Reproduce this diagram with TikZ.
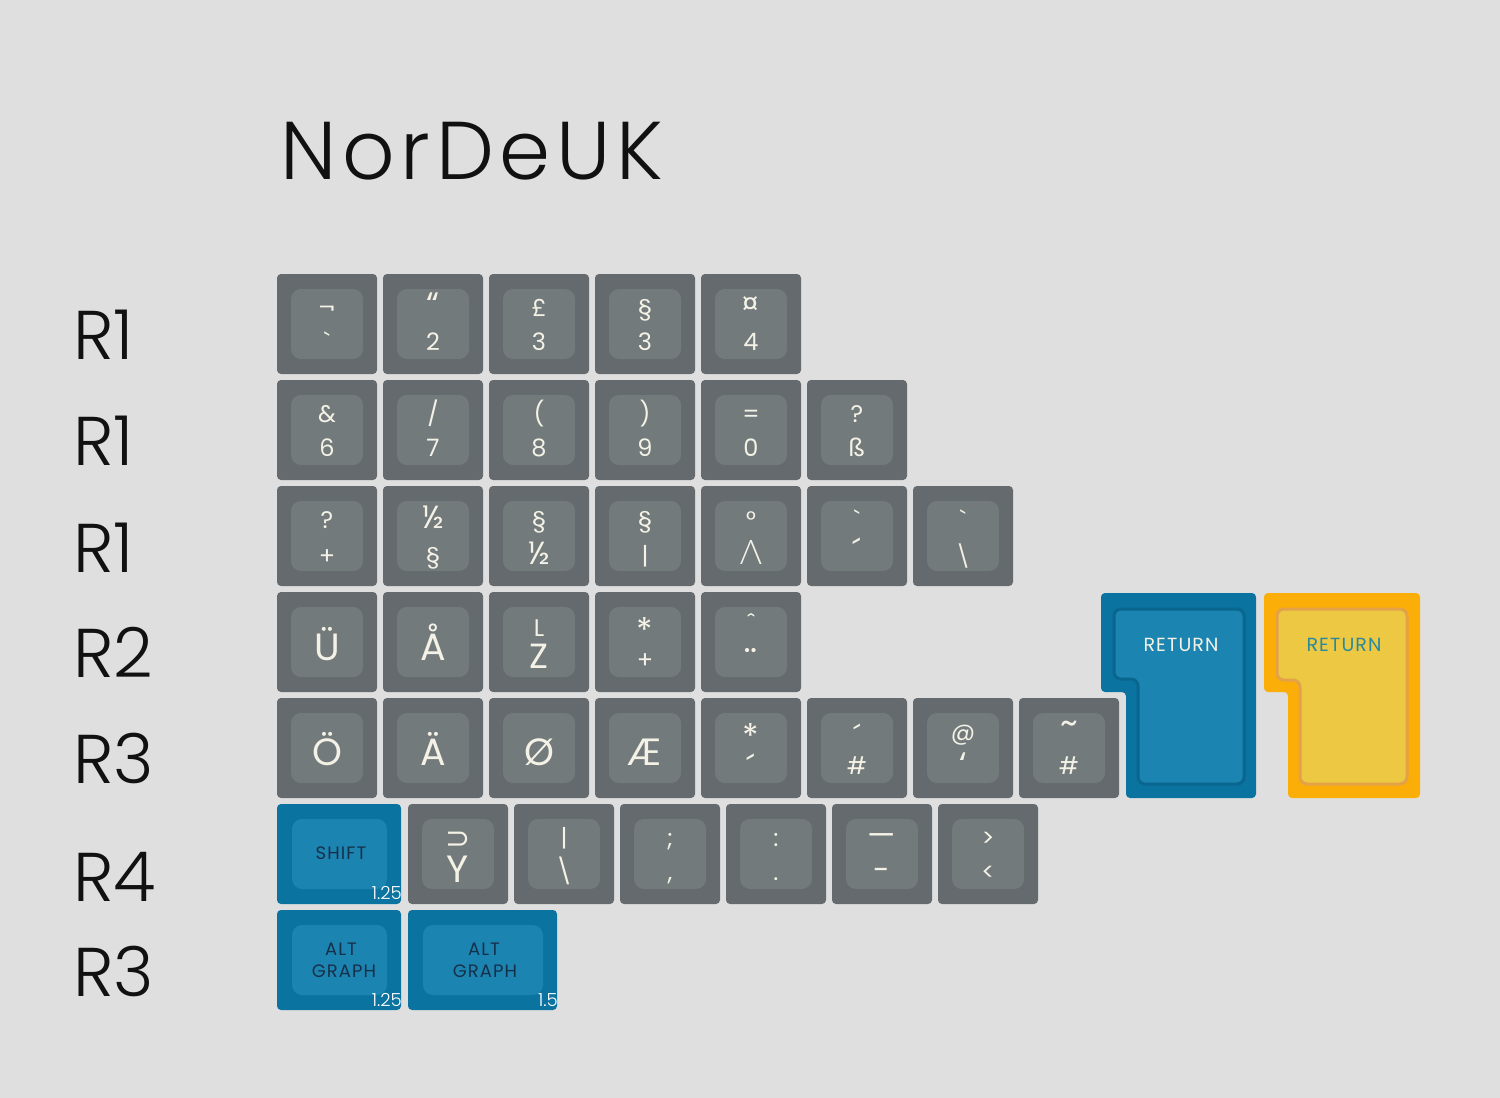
\documentclass[tikz,border=0pt]{standalone}
\usepackage{fontspec}
\usepackage{xcolor}
\usepackage{tikz}
\usetikzlibrary{positioning,calc}
\IfFontExistsTF{Poppins Light}
  {\newfontfamily\kbfont{Poppins Light}}
  {\newfontfamily\kbfont{Poppins}}
\newfontfamily\kbleg{Poppins}
\IfFontExistsTF{Lato Light}
  {\newfontfamily\kbgreek{Lato Light}}
  {\newfontfamily\kbgreek{Lato}}
\newfontfamily\kbsym{DejaVu Sans}
\definecolor{kbBg}{HTML}{DFDFDF}
\definecolor{kbDark}{HTML}{646A6D}
\definecolor{kbLight}{HTML}{737A7C}
\definecolor{kbLeg}{HTML}{F4F2E6}
\definecolor{kbBlue}{HTML}{0B73A0}
\definecolor{kbBlueL}{HTML}{1B84B0}
\definecolor{kbBlueE}{HTML}{08668F}
\definecolor{kbAmber}{HTML}{FBAE08}
\definecolor{kbYellow}{HTML}{EDC842}
\definecolor{kbYellowE}{HTML}{E3A248}
\definecolor{kbNavy}{HTML}{17304A}
\definecolor{kbTeal}{HTML}{2A8A9C}
\definecolor{kbInk}{HTML}{111111}
\newcommand\kbsz[1]{\fontsize{#1}{#1}\selectfont}
\tikzset{
  kb-cap/.style={rectangle, rounded corners=4pt, inner sep=0pt,
    minimum height=100pt},
  kb-key/.style={kb-cap, fill=kbDark, minimum width=100pt,
    path picture={\fill[kbLight, rounded corners=10pt]
      ([shift={(14pt,-15pt)}]path picture bounding box.north west) rectangle
      ([shift={(-14pt,15pt)}]path picture bounding box.south east);}},
  kb-mod/.style={kb-cap, fill=kbBlue, minimum width=#1,
    path picture={\fill[kbBlueL, rounded corners=10pt]
      ([shift={(15pt,-15pt)}]path picture bounding box.north west) rectangle
      ([shift={(-14pt,15pt)}]path picture bounding box.south east);}},
  kb-mod/.default=124pt,
  kb-leg/.style={text=kbLeg, inner sep=0pt, anchor=base,
    font=\kbleg\kbsz{24}},
  kb-big/.style={kb-leg, font=\kbleg\kbsz{38}},
  kb-modtext/.style={text=kbNavy, inner sep=0pt, anchor=base,
    font=\kbleg\kbsz{18}\addfontfeature{LetterSpace=6}},
  kb-size/.style={text=white, inner sep=0pt, anchor=base east,
    font=\kbfont\kbsz{18}},
  kb-return/.style={inner sep=0pt, anchor=base,
    font=\kbleg\kbsz{19}\addfontfeature{LetterSpace=6}},
  kb-row/.style={text=kbInk, inner sep=0pt, anchor=base west,
    font=\kbfont\kbsz{69}},
  kb-title/.style={text=kbInk, inner sep=0pt, anchor=base west,
    font=\kbfont\kbsz{82}\addfontfeature{LetterSpace=7}}
}
\begin{document}
\begin{tikzpicture}[x=1pt, y=-1pt]
\fill[kbBg] (0,0) rectangle (1500,1098);
\useasboundingbox (0,0) rectangle (1500,1098);

\node[kb-title] (title) at (280,179) {NorDeUK};

% Row labels
\foreach \n/\t/\y in {1/R1/359, 2/R1/465, 3/R1/572, 4/R2/677,
  5/R3/783, 6/R4/901, 7/R3/996}
  \node[kb-row] (lab\n) at (73,\y) {\t};

% First three rows
\foreach \i/\up/\dn in {0/{¬}/{`}, 1/{\kbsz{34}“}/2, 2/{£}/3, 3/{§}/3,
  4/{\kbsz{34}¤}/4}{
  \node[kb-key] (a\i) at (327+106*\i,324) {};
  \node[kb-leg] (a\i-u) at (327+106*\i,316) {\up};
  \node[kb-leg] (a\i-d) at (327+106*\i,350) {\dn};
}
\foreach \i/\up/\dn in {0/{\&}/6, 1/{/}/7, 2/{(}/8, 3/{)}/9, 4/{=}/0,
  5/{?}/{ß}}{
  \node[kb-key] (b\i) at (327+106*\i,430) {};
  \node[kb-leg] (b\i-u) at (327+106*\i,422) {\up};
  \node[kb-leg] (b\i-d) at (327+106*\i,456) {\dn};
}
\foreach \i/\up/\dn in {0/{?}/{+}, 1/{\kbsz{32}½}/{§}, 2/{§}/{\kbsz{32}½},
  3/{§}/{|}, 4/{°}/{\kbgreek\kbsz{34}Λ}, 5/{`}/{\kbsz{34}´},
  6/{`}/{\kbsz{22}\textbackslash}}{
  \node[kb-key] (c\i) at (327+106*\i,536) {};
  \node[kb-leg] (c\i-u) at (327+106*\i,528) {\up};
  \node[kb-leg] (c\i-d) at (327+106*\i,564) {\dn};
}

% R2 row
\foreach \i/\c in {0/Ü, 1/Å}{
  \node[kb-key] (d\i) at (327+106*\i,642) {};
  \node[kb-big] (d\i-c) at (327+106*\i,660) {\c};
}
\node[kb-key] (d2) at (539,642) {};
\node[kb-leg] (d2-u) at (539,636) {L};
\node[kb-leg, font=\kbleg\kbsz{35}] (d2-d) at (539,668) {Z};
\node[kb-key] (d3) at (645,642) {};
\node[kb-leg, font=\kbleg\kbsz{34}] (d3-u) at (645,642) {*};
\node[kb-leg] (d3-d) at (645,668) {+};
\node[kb-key] (d4) at (751,642) {};
\node[kb-leg] (d4-u) at (751,631) {ˆ};
\node[kb-leg, font=\kbleg\kbsz{40}] (d4-d) at (751,677) {¨};

% R3 row
\foreach \i/\c in {0/Ö, 1/Ä, 2/Ø, 3/Æ}{
  \node[kb-key] (e\i) at (327+106*\i,748) {};
  \node[kb-big] (e\i-c) at (327+106*\i,765) {\c};
}
\node[kb-key] (e4) at (751,748) {};
\node[kb-leg, font=\kbleg\kbsz{34}] (e4-u) at (751,748) {*};
\node[kb-leg, font=\kbleg\kbsz{34}] (e4-d) at (751,780) {´};
\node[kb-key] (e5) at (857,748) {};
\node[kb-leg, font=\kbleg\kbsz{30}] (e5-u) at (857,747) {´};
\node[kb-leg] (e5-d) at (857,774) {\#};
\node[kb-key] (e6) at (963,748) {};
\node[kb-leg] (e6-u) at (963,740) {@};
\node[kb-leg, font=\kbleg\kbsz{34}] (e6-d) at (963,776) {‘};
\node[kb-key] (e7) at (1069,748) {};
\node[kb-leg, font=\kbleg\kbsz{34}] (e7-u) at (1069,734) {\textasciitilde};
\node[kb-leg] (e7-d) at (1069,774) {\#};

% R4 row
\node[kb-mod] (f0) at (339,854) {};
\node[kb-modtext] (f0-t) at (341,859) {SHIFT};
\node[kb-size] (f0-s) at (402,899) {1.25};
\node[kb-key] (f1) at (458,854) {};
\node[kb-leg, font=\kbsym\kbsz{30}] (f1-u) at (458,848) {⊃};
\node[kb-big] (f1-d) at (458,882) {Y};
\foreach \i/\up/\dn in {2/{|}/{\kbsz{25}\textbackslash},
  3/{;}/{,}, 4/{:}/{.}, 5/{\kbsz{32}—}/{\kbsz{30}-}, 6/{>}/{<}}{
  \node[kb-key] (f\i) at (352+106*\i,854) {};
  \node[kb-leg] (f\i-u) at (352+106*\i,846) {\up};
  \node[kb-leg] (f\i-d) at (352+106*\i,880) {\dn};
}

% Bottom row
\node[kb-mod] (g0) at (339,960) {};
\node[kb-modtext] (g0-a) at (341,955) {ALT};
\node[kb-modtext] (g0-b) at (344,977) {GRAPH};
\node[kb-size] (g0-s) at (402,1006) {1.25};
\node[kb-mod=149pt] (g1) at (482.5,960) {};
\node[kb-modtext] (g1-a) at (484,955) {ALT};
\node[kb-modtext] (g1-b) at (485,977) {GRAPH};
\node[kb-size] (g1-s) at (558,1006) {1.5};

% Return keys
\fill[kbBlue, rounded corners=4pt] (1101,593) -- (1256,593) -- (1256,798)
  -- (1126,798) -- (1126,692) -- (1101,692) -- cycle;
\filldraw[fill=kbBlueL, draw=kbBlueE, line width=3pt, rounded corners=7pt]
  (1114,609) -- (1244,609) -- (1244,784) -- (1138,784) -- (1138,679)
  -- (1114,679) -- cycle;
\node[kb-return, text=kbLeg] (ret1) at (1181,651) {RETURN};
\fill[kbAmber, rounded corners=4pt] (1264,593) -- (1420,593) -- (1420,798)
  -- (1288,798) -- (1288,692) -- (1264,692) -- cycle;
\filldraw[fill=kbYellow, draw=kbYellowE, line width=3pt, rounded corners=7pt]
  (1277,609) -- (1407,609) -- (1407,784) -- (1300,784) -- (1300,680)
  -- (1277,680) -- cycle;
\node[kb-return, text=kbTeal] (ret2) at (1344,651) {RETURN};
\end{tikzpicture}
\end{document}
